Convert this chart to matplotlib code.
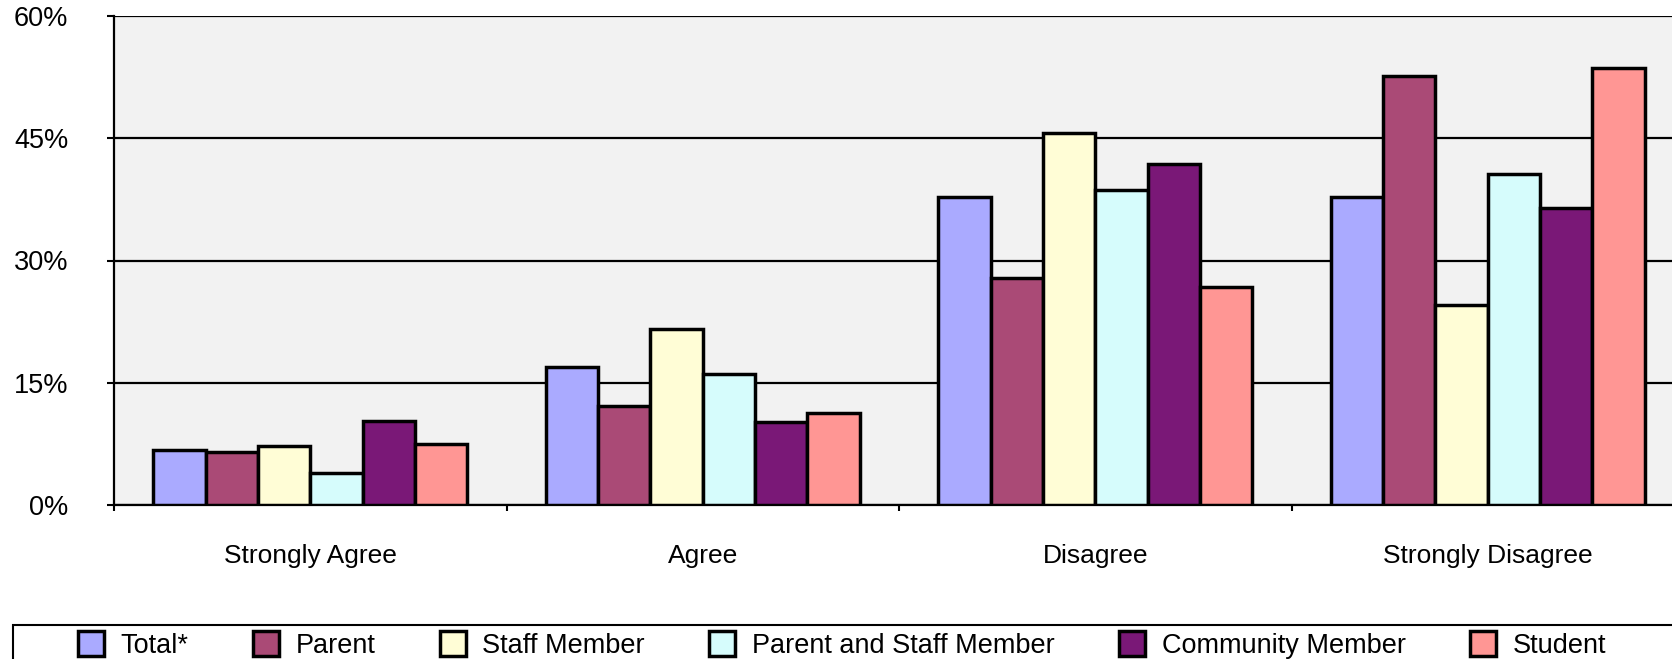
import matplotlib
matplotlib.use("Agg")
import matplotlib.pyplot as plt
import numpy as np
from matplotlib.patches import Rectangle
from matplotlib.ticker import PercentFormatter

plt.rcParams['font.family'] = ['Liberation Sans', 'DejaVu Sans']

categorias = ["Strongly Agree", "Agree", "Disagree", "Strongly Disagree"]
grupos = ["Total*", "Parent", "Staff Member", "Parent and Staff Member",
          "Community Member", "Student"]
colores = ["#AAAAFF", "#AA4A76", "#FFFDD6", "#D6FCFC", "#7A1877", "#FF9694"]

total = [6.7, 16.9, 37.8, 37.8]
parent = [6.5, 12.2, 27.9, 52.6]
staff = [7.2, 21.6, 45.7, 24.5]
parent_staff = [3.9, 16.1, 38.6, 40.6]
community = [10.3, 10.2, 41.8, 36.5]
student = [7.5, 11.3, 26.7, 53.6]
valores = [total, parent, staff, parent_staff, community, student]

W, H = 1672, 659
fig = plt.figure(figsize=(W / 100, H / 100), dpi=100)
ax = fig.add_axes([114 / W, 154 / H, 1570 / W, 489 / H])
ax.set_facecolor("#F2F2F2")

x = np.arange(len(categorias))
ancho = 0.8 / len(grupos)
for i, (nombre, vals, col) in enumerate(zip(grupos, valores, colores)):
    ax.bar(x + (i - 2.5) * ancho, np.array(vals) / 100, ancho, color=col,
           edgecolor="black", linewidth=2.5, label=nombre, zorder=3)

ax.set_xlim(-0.5, len(categorias) - 0.5)
ax.set_ylim(0, 0.6)
ax.set_yticks([0, 0.15, 0.30, 0.45, 0.60])
ax.yaxis.set_major_formatter(PercentFormatter(1.0, decimals=0))
ax.grid(axis="y", color="black", linewidth=1.6, zorder=1)
ax.set_axisbelow(True)

ax.set_xticks(x)
ax.set_xticklabels(categorias)
ax.set_xticks(np.arange(-0.5, len(categorias)), minor=True)
ax.tick_params(axis="x", which="major", length=0, pad=28, labelsize=19)
ax.tick_params(axis="x", which="minor", length=4, width=1.5, direction="out")
ax.tick_params(axis="y", length=5, width=1.5, pad=28, labelsize=19.5)

for lado in ["top", "right"]:
    ax.spines[lado].set_visible(False)
for lado in ["left", "bottom"]:
    ax.spines[lado].set_linewidth(1.6)

# marco de la leyenda (se sale por la derecha y por abajo)
fig.patches.append(Rectangle((13 / W, -0.02), 1.05, (659 - 625) / H + 0.02,
                             transform=fig.transFigure, facecolor="white",
                             edgecolor="black", linewidth=1.5, zorder=0))

handles, labels = ax.get_legend_handles_labels()
fig.legend(handles, labels, loc="center left", bbox_to_anchor=(78 / W, 14 / H),
           ncol=6, frameon=False, fontsize=19.5, borderpad=0, borderaxespad=0,
           handlelength=0.95, handleheight=1.0, handletextpad=0.62,
           columnspacing=2.38)

plt.savefig("out.png", dpi=100)
plt.close()
